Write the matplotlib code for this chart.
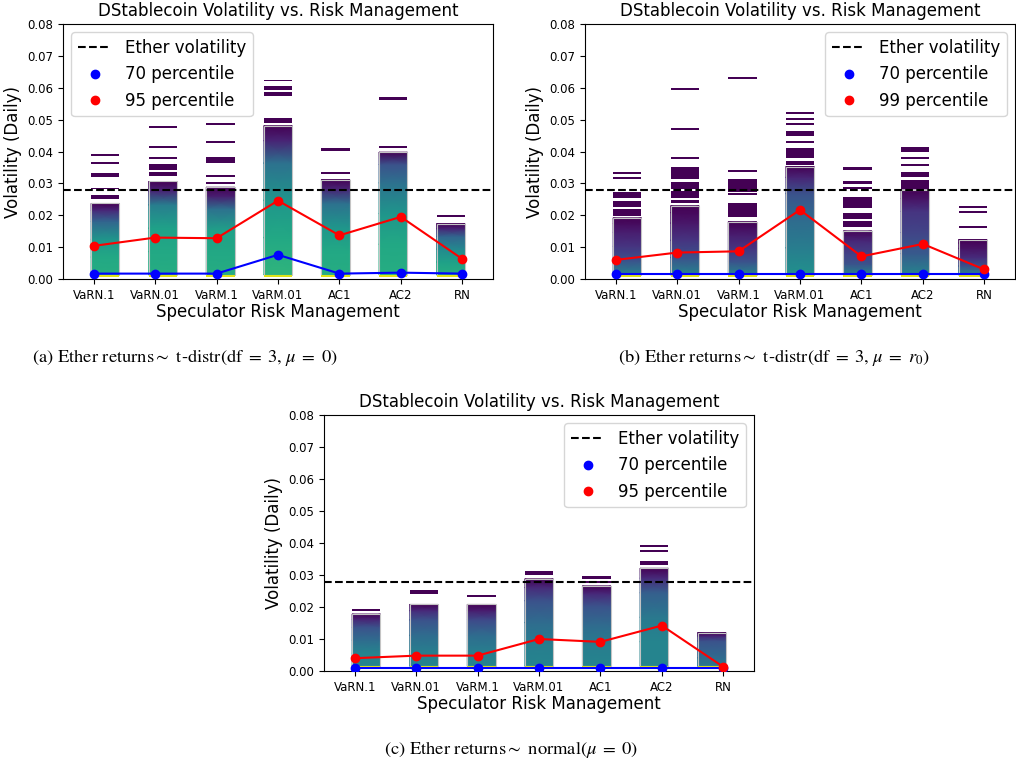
import numpy as np
import matplotlib
matplotlib.use('Agg')
import matplotlib.pyplot as plt
from matplotlib.patches import Rectangle
from matplotlib.lines import Line2D

plt.rcParams['mathtext.fontset'] = 'stix'

# Категории и общие значения
CATEGORIES = ['VaRN.1', 'VaRN.01', 'VaRM.1', 'VaRM.01', 'AC1', 'AC2', 'RN']
ETHER_VOL = 0.0278

# (a) t-distr, mu = 0
A_P70 = [0.0017, 0.0017, 0.0017, 0.0076, 0.0017, 0.0020, 0.0017]
A_PHIGH = [0.0104, 0.0130, 0.0128, 0.0246, 0.0137, 0.0195, 0.0063]
A_BODY_TOP = [0.0237, 0.0306, 0.0288, 0.0481, 0.0312, 0.0398, 0.0174]
A_SHADE = [
    [0.62, 0.60, 0.52, 0.32, 0.12, 0.0],
    [0.62, 0.60, 0.57, 0.42, 0.10, 0.0],
    [0.62, 0.60, 0.57, 0.37, 0.08, 0.0],
    [0.65, 0.60, 0.52, 0.37, 0.10, 0.0],
    [0.62, 0.60, 0.52, 0.37, 0.10, 0.0],
    [0.62, 0.60, 0.52, 0.37, 0.25, 0.0],
    [0.62, 0.57, 0.47, 0.32, 0.10, 0.0],
]
A_STRIPES = [
    [(0.0385, 0.0391), (0.0362, 0.0368), (0.0320, 0.0334), (0.0281, 0.0287), (0.0251, 0.0265)],
    [(0.0475, 0.0481), (0.0411, 0.0417), (0.0378, 0.0384), (0.0343, 0.0361), (0.0322, 0.0335)],
    [(0.0483, 0.0489), (0.0427, 0.0433), (0.0364, 0.0383), (0.0321, 0.0327), (0.0299, 0.0305)],
    [(0.0620, 0.0626), (0.0594, 0.0607), (0.0573, 0.0586), (0.0489, 0.0505)],
    [(0.0401, 0.0410), (0.0330, 0.0336)],
    [(0.0563, 0.0571), (0.0411, 0.0417)],
    [(0.0194, 0.0200)],
]

# (b) t-distr, mu = r0
B_P70 = [0.0015, 0.0015, 0.0015, 0.0015, 0.0015, 0.0015, 0.0015]
B_PHIGH = [0.0060, 0.0083, 0.0087, 0.0217, 0.0071, 0.0110, 0.0030]
B_BODY_TOP = [0.0192, 0.0230, 0.0180, 0.0353, 0.0151, 0.0279, 0.0124]
B_SHADE = [
    [0.45, 0.25, 0.15, 0.08, 0.03, 0.0],
    [0.45, 0.25, 0.15, 0.06, 0.02, 0.0],
    [0.45, 0.25, 0.15, 0.08, 0.03, 0.0],
    [0.50, 0.42, 0.35, 0.25, 0.10, 0.0],
    [0.45, 0.25, 0.18, 0.12, 0.05, 0.02],
    [0.45, 0.28, 0.20, 0.15, 0.05, 0.0],
    [0.45, 0.25, 0.12, 0.05, 0.02, 0.0],
]
B_STRIPES = [
    [(0.0329, 0.0335), (0.0313, 0.0319), (0.0253, 0.0272), (0.0225, 0.0246), (0.0199, 0.0219)],
    [(0.0594, 0.0600), (0.0467, 0.0473), (0.0377, 0.0383), (0.0313, 0.0352), (0.0284, 0.0305),
     (0.0255, 0.0277), (0.0237, 0.0248)],
    [(0.0629, 0.0635), (0.0336, 0.0342), (0.0274, 0.0313), (0.0264, 0.0270), (0.0196, 0.0237)],
    [(0.0518, 0.0524), (0.0500, 0.0506), (0.0483, 0.0489), (0.0448, 0.0465), (0.0427, 0.0433),
     (0.0380, 0.0411), (0.0359, 0.0369)],
    [(0.0343, 0.0353), (0.0299, 0.0306), (0.0282, 0.0289), (0.0223, 0.0257), (0.0187, 0.0207),
     (0.0162, 0.0183)],
    [(0.0400, 0.0415), (0.0377, 0.0383), (0.0354, 0.0360), (0.0321, 0.0335), (0.0284, 0.0311)],
    [(0.0224, 0.0230), (0.0208, 0.0214), (0.0159, 0.0165)],
]

# (c) normal, mu = 0
C_P70 = [0.0010, 0.0010, 0.0010, 0.0010, 0.0010, 0.0010, 0.0010]
C_PHIGH = [0.0040, 0.0048, 0.0048, 0.0100, 0.0091, 0.0142, 0.0013]
C_BODY_TOP = [0.0178, 0.0208, 0.0208, 0.0288, 0.0266, 0.0321, 0.0120]
C_SHADE = [
    [0.45, 0.45, 0.35, 0.25, 0.10, 0.0],
    [0.45, 0.42, 0.35, 0.25, 0.12, 0.0],
    [0.45, 0.42, 0.35, 0.22, 0.08, 0.0],
    [0.45, 0.42, 0.35, 0.25, 0.12, 0.0],
    [0.45, 0.42, 0.35, 0.25, 0.12, 0.0],
    [0.45, 0.45, 0.40, 0.30, 0.12, 0.0],
    [0.40, 0.35, 0.30, 0.25, 0.10, 0.0],
]
C_STRIPES = [
    [(0.0187, 0.0194)],
    [(0.0242, 0.0252)],
    [(0.0232, 0.0238)],
    [(0.0300, 0.0314)],
    [(0.0288, 0.0298), (0.0276, 0.0282)],
    [(0.0388, 0.0394), (0.0373, 0.0379), (0.0330, 0.0344)],
    [],
]

# Геометрия столбцов
SHADE_FRACS = [0.0, 0.25, 0.5, 0.75, 0.9, 1.0]
BAR_W = 0.46
BAR_POS = np.arange(len(CATEGORIES)) * 0.9375 + 0.1875
LINE_X = np.arange(len(CATEGORIES))
EDGE = '#c4c4c4'
CMAP = plt.cm.viridis


def draw_density_bar(ax, x, top, shade, stripes, base, band):
    """Рисует один столбец плотности: градиентное тело, жёлтая полоса снизу и выбросы."""
    left, right = x - BAR_W / 2, x + BAR_W / 2
    ys = base + np.array(SHADE_FRACS) * (top - base)
    X = np.array([[left, right]] * len(ys))
    Y = np.column_stack([ys, ys])
    C = np.column_stack([shade, shade])
    ax.pcolormesh(X, Y, C, cmap=CMAP, vmin=0, vmax=1, shading='gouraud', zorder=1)
    ax.add_patch(Rectangle((left, base), BAR_W, top - base, fill=False,
                           edgecolor=EDGE, lw=0.8, zorder=1.5))
    # Жёлтая полоса у основания
    ax.add_patch(Rectangle((left, band[0]), BAR_W, band[1] - band[0],
                           facecolor=CMAP(0.95), edgecolor='none', zorder=1.6))
    # Отдельные выбросы
    for lo, hi in stripes:
        ax.add_patch(Rectangle((left, lo), BAR_W, hi - lo, facecolor=CMAP(0.0),
                               edgecolor='none', zorder=1.5))


def draw_panel(ax, p70, phigh, high_label, tops, shades, stripes, base, band, legend_loc):
    for i in range(len(CATEGORIES)):
        draw_density_bar(ax, BAR_POS[i], tops[i], shades[i], stripes[i], base, band)

    ax.axhline(ETHER_VOL, color='black', linestyle='--', lw=1.5, zorder=3)
    ax.plot(LINE_X, p70, color='blue', lw=1.5, zorder=3)
    ax.plot(LINE_X, phigh, color='red', lw=1.5, zorder=3)
    ax.scatter(LINE_X, p70, s=36, color='blue', zorder=4)
    ax.scatter(LINE_X, phigh, s=36, color='red', zorder=4)

    ax.set_xlim(-0.5, 6.5)
    ax.set_ylim(0, 0.08)
    ax.set_yticks(np.arange(0, 0.081, 0.01))
    ax.set_yticklabels([f'{v:.2f}' for v in np.arange(0, 0.081, 0.01)])
    ax.set_xticks(LINE_X)
    ax.set_xticklabels(CATEGORIES)
    ax.tick_params(labelsize=8.5)
    ax.set_title('DStablecoin Volatility vs. Risk Management', fontsize=12)
    ax.set_xlabel('Speculator Risk Management', fontsize=12, labelpad=1)
    ax.set_ylabel('Volatility (Daily)', fontsize=12)

    handles = [
        Line2D([], [], color='black', linestyle='--', lw=1.5),
        Line2D([], [], color='blue', marker='o', linestyle='none', markersize=6),
        Line2D([], [], color='red', marker='o', linestyle='none', markersize=6),
    ]
    ax.legend(handles, ['Ether volatility', '70 percentile', high_label],
              loc=legend_loc, fontsize=12)


fig = plt.figure(figsize=(10.16, 7.71), dpi=100)

ax_a = fig.add_axes([0.0620, 0.6381, 0.4232, 0.3307])
ax_b = fig.add_axes([0.5758, 0.6381, 0.4232, 0.3307])
ax_c = fig.add_axes([0.3189, 0.1297, 0.4232, 0.3320])

draw_panel(ax_a, A_P70, A_PHIGH, '95 percentile', A_BODY_TOP, A_SHADE, A_STRIPES,
           0.0013, (0.0005, 0.0013), 'upper left')
draw_panel(ax_b, B_P70, B_PHIGH, '99 percentile', B_BODY_TOP, B_SHADE, B_STRIPES,
           0.0013, (0.0005, 0.0013), 'upper right')
draw_panel(ax_c, C_P70, C_PHIGH, '95 percentile', C_BODY_TOP, C_SHADE, C_STRIPES,
           0.0015, (0.0012, 0.0015), 'upper right')

# Подписи под панелями
cap_kw = dict(ha='center', va='center', fontsize=13.3, family='STIXGeneral')
fig.text(185 / 1016, 1 - 357 / 771,
         r'(a) Ether returns$\sim$ t-distr$(\mathrm{df}\;=\;3,\, \mu\;=\;0)$', **cap_kw)
fig.text(774 / 1016, 1 - 357 / 771,
         r'(b) Ether returns$\sim$ t-distr$(\mathrm{df}\;=\;3,\, \mu\;=\;r_0)$', **cap_kw)
fig.text(511 / 1016, 1 - 750 / 771,
         r'(c) Ether returns$\sim$ normal$(\mu\;=\;0)$', **cap_kw)

fig.savefig('out.png', dpi=100)
plt.close(fig)
